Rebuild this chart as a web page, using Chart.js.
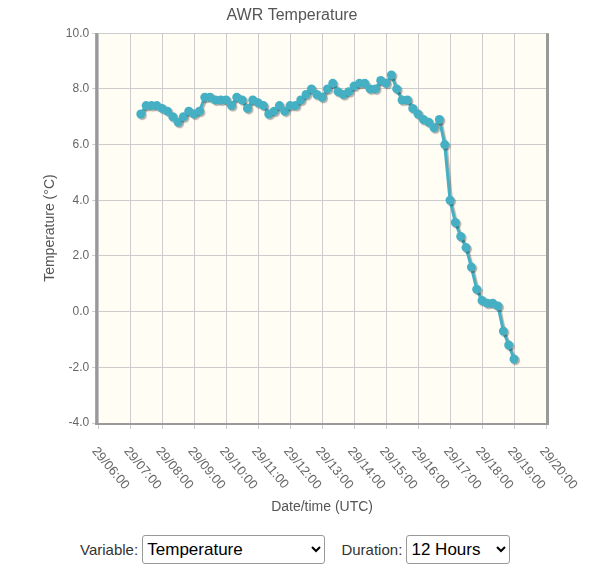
<!DOCTYPE html>
<html><head><meta charset="utf-8">
<script src="https://cdn.jsdelivr.net/npm/chart.js@4"></script>
<style>
body{margin:0;background:#fff;font-family:"Liberation Sans",Arial,sans-serif;}
#wrap{position:relative;width:592px;height:525px;}
#ctl{position:absolute;top:535px;left:80px;font-size:15px;color:#333;}
select{font-size:17px;font-family:"Liberation Sans",Arial,sans-serif;height:29px;margin-right:12px;background:#fff;border:1px solid #999;border-radius:3px;}
</style></head><body>
<div id="wrap"><canvas id="c" width="592" height="525"></canvas></div>
<div id="ctl">Variable: <select style="width:183px"><option>Temperature</option></select> Duration: <select style="width:104px"><option>12 Hours</option></select></div>
<script>
const minutes=[80,90,100,110,120,130,140,150,160,170,180,190,200,210,220,230,240,250,260,270,280,290,300,310,320,330,340,350,360,370,380,390,400,410,420,430,440,450,460,470,480,490,500,510,520,530,540,550,560,570,580,590,600,610,620,630,640,650,660,670,680,690,700,710,720,730,740,750,760,770,780];
const temps=[7.1,7.4,7.4,7.4,7.3,7.2,7.0,6.8,7.0,7.2,7.1,7.2,7.7,7.7,7.6,7.6,7.6,7.4,7.7,7.6,7.3,7.6,7.5,7.4,7.1,7.2,7.4,7.2,7.4,7.4,7.6,7.8,8.0,7.8,7.7,8.0,8.2,7.9,7.8,7.9,8.1,8.2,8.2,8.0,8.0,8.3,8.2,8.5,8.0,7.6,7.6,7.3,7.1,6.9,6.8,6.6,6.9,6.0,4.0,3.2,2.7,2.3,1.6,0.8,0.4,0.3,0.3,0.2,-0.7,-1.2,-1.7];
const tickMinutes=[0,60,120,180,240,300,360,420,480,540,600,660,720,780,840];
const dayLabel='29';
const fmt=v=>dayLabel+'/'+String(6+v/60).padStart(2,'0')+':00';
const bgPlugin={id:'bg',beforeDraw(ch){const a=ch.chartArea,x=ch.ctx;x.save();x.fillStyle='#fffdf4';x.fillRect(a.left,a.top,a.right-a.left,a.bottom-a.top);x.restore();},
afterDraw(ch){const a=ch.chartArea,x=ch.ctx,sx=ch.scales.x;x.save();x.fillStyle='#999';x.fillRect(a.left-3,a.top,3,a.bottom-a.top+2);x.fillRect(a.right,a.top,3,a.bottom-a.top+2);x.fillRect(a.left-3,a.bottom,a.right-a.left+6,2);
x.fillStyle='#666';x.font='13px "Liberation Sans"';x.textAlign='left';x.textBaseline='middle';
tickMinutes.forEach(m=>{const px=sx.getPixelForValue(m);x.save();x.translate(px-4,a.bottom+26);x.rotate(50*Math.PI/180);x.fillText(fmt(m),0,0);x.restore();});
x.fillStyle='#555';x.font='14px "Liberation Sans"';x.textAlign='center';x.fillText('Date/time (UTC)',(a.left+a.right)/2,507);
x.restore();}};
const shadow={id:'sh',beforeDatasetsDraw(ch){ch.ctx.save();ch.ctx.shadowColor='rgba(0,0,0,0.3)';ch.ctx.shadowOffsetX=1.5;ch.ctx.shadowOffsetY=1.5;ch.ctx.shadowBlur=1;},afterDatasetsDraw(ch){ch.ctx.restore();}};
new Chart(document.getElementById('c'),{type:'line',
data:{datasets:[{data:minutes.map((m,i)=>({x:m,y:temps[i]})),borderColor:'#45b0c4',backgroundColor:'#45b0c4',borderWidth:3,pointRadius:4.5,pointBorderWidth:0,pointHoverRadius:4.5,tension:0}]},
options:{responsive:false,animation:false,layout:{padding:{left:38,right:46,top:0,bottom:96}},
plugins:{legend:{display:false},tooltip:{enabled:false},title:{display:true,text:'AWR Temperature',color:'#555',font:{size:16,weight:'normal',family:'Liberation Sans'},padding:{top:6,bottom:8}}},
scales:{x:{type:'linear',min:0,max:840,border:{display:false},grid:{color:'#ccc',drawTicks:true,tickLength:6},
ticks:{stepSize:60,display:false}},
y:{min:-4,max:10,border:{display:false},grid:{color:'#ccc',tickLength:6},ticks:{stepSize:2,color:'#666',font:{size:12,family:'Liberation Sans'},callback:v=>v.toFixed(1)},
title:{display:true,text:'Temperature (°C)',color:'#555',font:{size:14,family:'Liberation Sans'}}}}},
plugins:[bgPlugin,shadow]});
</script></body></html>
